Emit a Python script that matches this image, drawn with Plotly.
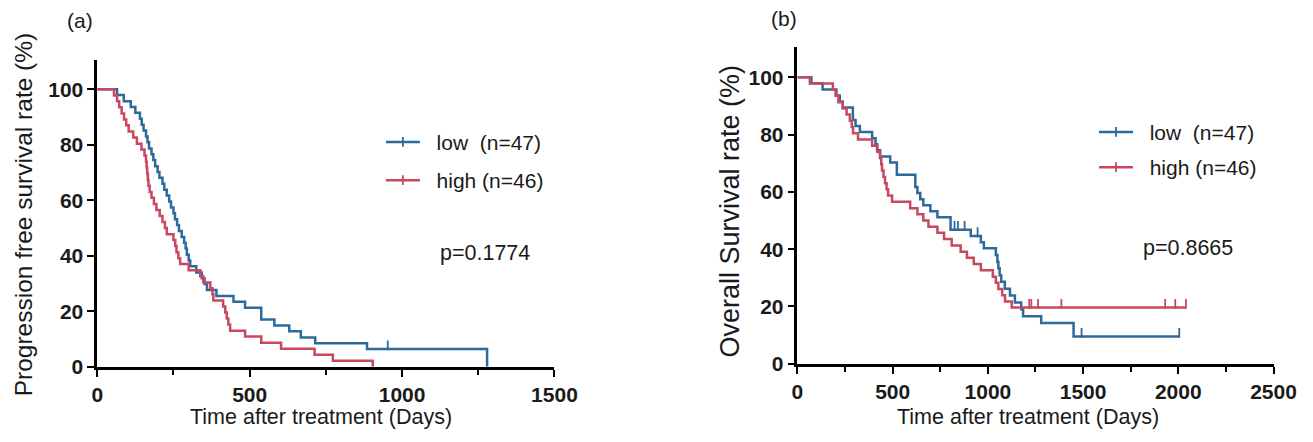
import bisect
import plotly.graph_objects as go

# ---------------- data ----------------
# Panel (a): progression free survival, step times (days) and survival (%) after each step
a_low_t = [0, 65, 87, 110, 125, 140, 146, 152, 160, 165, 170, 178, 184, 190, 198, 204, 214, 220, 228,
           236, 242, 250, 255, 262, 268, 277, 285, 290, 294, 300, 305, 325, 343, 352, 360, 391, 447,
           485, 538, 581, 630, 668, 715, 885, 1279]
a_low_s = [100, 97.9, 95.7, 93.6, 91.5, 89.4, 87.2, 85.1, 83.0, 80.9, 78.7, 76.6, 74.5, 72.3, 70.2,
           68.1, 66.0, 63.8, 61.7, 59.6, 57.4, 55.3, 53.2, 51.1, 48.9, 46.8, 44.7, 42.6, 40.4, 38.3,
           36.2, 34.0, 31.9, 29.8, 27.7, 25.5, 23.4, 21.3, 17.0, 14.9, 12.8, 10.6, 8.5, 6.4, 0]
a_low_cens = [953]

a_high_t = [0, 55, 65, 72, 80, 88, 95, 103, 118, 130, 145, 155, 160, 162, 164, 166, 168, 172, 178,
            186, 194, 205, 214, 222, 228, 250, 256, 260, 266, 272, 300, 338, 348, 371, 378, 381, 413,
            420, 425, 430, 436, 485, 538, 603, 713, 773, 904]
a_high_s = [100, 97.8, 95.7, 93.5, 91.3, 89.1, 87.0, 84.8, 82.6, 80.4, 78.3, 76.1, 73.9, 71.7, 69.6,
            67.4, 65.2, 63.0, 60.9, 58.7, 56.5, 54.3, 52.2, 50.0, 47.8, 45.7, 43.5, 41.3, 39.1, 37.0,
            34.8, 32.6, 30.4, 28.3, 26.1, 23.9, 21.7, 19.6, 17.4, 15.2, 13.0, 10.9, 8.7, 6.5, 4.3,
            2.2, 0]
a_high_cens = []

# Panel (b): overall survival
b_low_t = [0, 73, 132, 205, 222, 238, 291, 305, 328, 392, 410, 418, 434, 487, 522, 619, 630, 645,
           661, 698, 735, 804, 910, 963, 979, 1042, 1050, 1055, 1062, 1070, 1089, 1116, 1142, 1175,
           1185, 1280, 1450, 2005]
b_low_s = [100, 97.9, 95.7, 93.6, 91.5, 89.4, 85.1, 83.0, 80.9, 78.7, 76.6, 74.5, 72.3, 70.2, 66.0,
           61.7, 59.6, 57.4, 55.3, 53.2, 51.1, 46.8, 44.6, 42.4, 40.3, 38.0, 35.6, 33.3, 30.9, 28.6,
           26.2, 23.8, 21.4, 19.0, 16.6, 14.2, 9.5, 9.5]
b_low_cens = [825, 843, 878, 946, 1492, 2005]

b_high_t = [0, 65, 186, 200, 215, 238, 258, 275, 285, 292, 318, 392, 420, 434, 440, 444, 452, 460,
            468, 476, 497, 592, 630, 661, 688, 735, 770, 810, 857, 890, 926, 963, 1026, 1042, 1055,
            1075, 1090, 1125, 2040]
b_high_s = [100, 97.8, 95.7, 93.5, 91.3, 89.1, 87.0, 84.8, 82.6, 80.4, 78.3, 76.1, 73.9, 71.7, 69.6,
            67.4, 65.2, 63.0, 60.9, 58.7, 56.5, 54.3, 52.2, 50.0, 47.8, 45.7, 43.5, 41.3, 39.1, 37.0,
            34.8, 32.6, 30.4, 28.3, 26.1, 23.9, 21.7, 19.6, 19.6]
b_high_cens = [1217, 1228, 1263, 1386, 1931, 1984, 2040]

group_names = ["low\u00a0\u00a0(n=47)", "high (n=46)"]
p_values = ["p=0.1774", "p=0.8665"]
y_titles = ["Progression free survival rate (%)", "Overall Survival rate (%)"]
x_title = "Time after treatment (Days)"
panel_labels = ["(a)", "(b)"]
y_ticks = [0, 20, 40, 60, 80, 100]
a_x_ticks = [0, 500, 1000, 1500]
b_x_ticks = [0, 500, 1000, 1500, 2000, 2500]

# ---------------- styling ----------------
BLUE = "#2d6a9c"
RED = "#c8485f"
FONT = "Arial, Liberation Sans, sans-serif"
TXT = "#1a1a1a"
W, H = 1313, 442
SX, SY = 0.986, 0.973   # observed render scale of the page
CENSOR_LIFT = 1.3       # censor ticks stand on the curve (in % units)


def surv_at(times, surv, t):
    i = bisect.bisect_right(times, t) - 1
    return surv[max(i, 0)]


fig = go.Figure()

panels = [
    ("x", "y", "legend", [(a_low_t, a_low_s, a_low_cens, BLUE), (a_high_t, a_high_s, a_high_cens, RED)]),
    ("x2", "y2", "legend2", [(b_low_t, b_low_s, b_low_cens, BLUE), (b_high_t, b_high_s, b_high_cens, RED)]),
]

for xa, ya, leg, groups in panels:
    for gi, (t, s, cens, col) in enumerate(groups):
        fig.add_trace(go.Scatter(x=t, y=s, mode="lines", line=dict(color=col, width=2.5, shape="hv"),
                                 xaxis=xa, yaxis=ya, showlegend=False, hoverinfo="skip"))
        if cens:
            fig.add_trace(go.Scatter(x=cens, y=[surv_at(t, s, c) + CENSOR_LIFT for c in cens],
                                     mode="markers",
                                     marker=dict(symbol="line-ns", size=7, line=dict(color=col, width=1.8)),
                                     xaxis=xa, yaxis=ya, showlegend=False, hoverinfo="skip"))
        fig.add_trace(go.Scatter(x=[None], y=[None], mode="lines+markers",
                                 name="\u00a0\u00a0" + group_names[gi],
                                 line=dict(color=col, width=2.5),
                                 marker=dict(symbol="line-ns", size=7, line=dict(color=col, width=1.8)),
                                 xaxis=xa, yaxis=ya, legend=leg, legendgroup=f"{leg}{gi}"))


def px_x(p):
    return (p / SX) / W


def px_y(p):
    return 1 - (p / SY) / H


axis_common = dict(showline=True, linecolor="black", linewidth=2.5, ticks="outside", ticklen=7,
                   tickwidth=2.2, tickcolor="black", showgrid=False, zeroline=False,
                   tickfont=dict(family=FONT, size=21, color=TXT, weight="bold"))
minor_x = dict(dtick=250, tick0=0, ticks="outside", ticklen=5, tickwidth=2, tickcolor="black")

fig.update_layout(
    width=W, height=H,
    margin=dict(l=0, r=0, t=0, b=0),
    paper_bgcolor="white", plot_bgcolor="white",
    font=dict(family=FONT, color=TXT),
    xaxis=dict(domain=[px_x(92), px_x(553)], range=[0, 1500], tickvals=a_x_ticks, anchor="y",
               minor=minor_x, **axis_common),
    yaxis=dict(domain=[px_y(366), px_y(60)], range=[0, 110.5], tickvals=y_ticks, anchor="x",
               **axis_common),
    xaxis2=dict(domain=[px_x(798), px_x(1278)], range=[0, 2500], tickvals=b_x_ticks, anchor="y2",
                minor=minor_x, **axis_common),
    yaxis2=dict(domain=[px_y(363), px_y(47)], range=[0, 110.5], tickvals=y_ticks, anchor="x2",
                **axis_common),
    legend=dict(x=px_x(378), y=px_y(121.5), xanchor="left", yanchor="top", itemwidth=34,
                tracegroupgap=8, bgcolor="rgba(0,0,0,0)",
                font=dict(family=FONT, size=21, color=TXT)),
    legend2=dict(x=px_x(1097), y=px_y(111.5), xanchor="left", yanchor="top", itemwidth=34,
                 tracegroupgap=5, bgcolor="rgba(0,0,0,0)",
                 font=dict(family=FONT, size=21, color=TXT)),
    showlegend=True,
)


def note(text, x, y, size, angle=0):
    return dict(text=text, x=px_x(x), y=px_y(y), xref="paper", yref="paper", xanchor="center",
                yanchor="middle", showarrow=False, textangle=angle,
                font=dict(family=FONT, size=size, color=TXT))


ann = [
    note(panel_labels[0], 75, 20, 21),
    note(panel_labels[1], 784, 18, 21),
    note(p_values[0], 483, 252, 21.5),
    note(p_values[1], 1192, 247, 21.5),
    note(y_titles[0], 18, 214, 24.5, -90),
    note(y_titles[1], 730, 211, 27, -90),
    note(x_title, 318, 416, 21.5),
    note(x_title, 1030, 416, 21.5),
]
fig.update_layout(annotations=ann)

fig.write_html("out.html")
